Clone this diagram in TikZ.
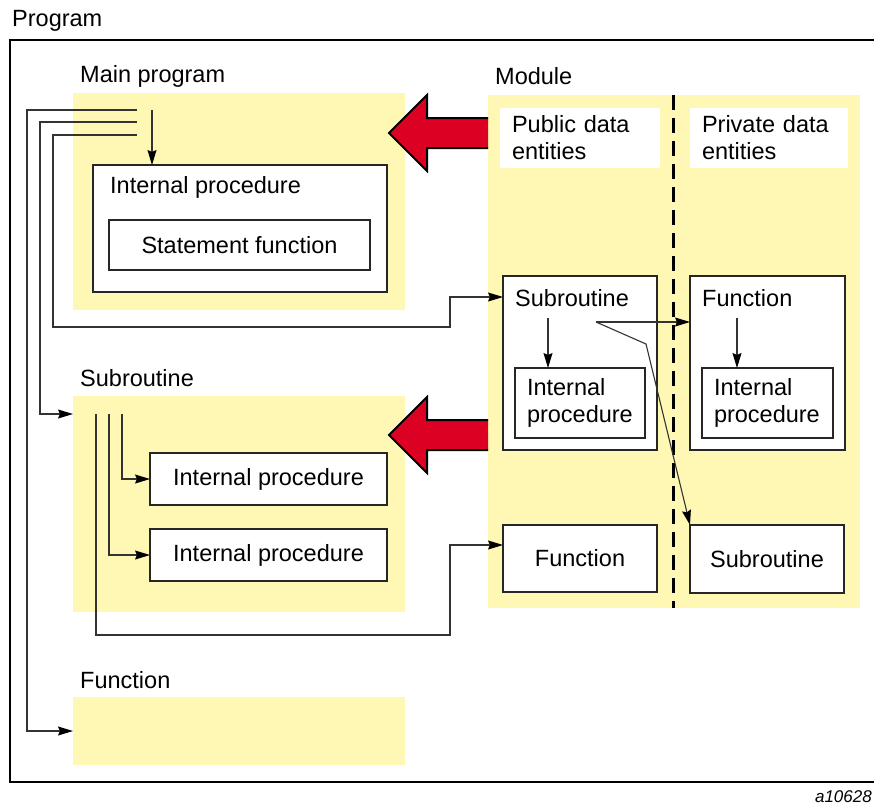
\documentclass[tikz,border=0pt]{standalone}
\usepackage{fontspec}
\setmainfont{Liberation Sans}
\usetikzlibrary{arrows.meta, positioning}
\definecolor{areayellow}{RGB}{255,247,180}
\definecolor{arrowred}{RGB}{220,0,34}

\begin{document}
\begin{tikzpicture}[
  x=1pt, y=-1pt,
  font=\fontsize{23.5}{27}\selectfont,
  area/.style={rectangle, fill=areayellow, inner sep=0pt, outer sep=0pt, anchor=north west},
  box/.style={rectangle, draw=black!85, line width=1.3pt, fill=white, inner sep=0pt, outer sep=0pt, anchor=north west},
  notebox/.style={box, draw=none, align=left, inner xsep=12pt},
  title/.style={anchor=west, inner sep=0pt},
  flow/.style={-{Stealth[length=15pt, width=9pt, inset=2pt, black]}, line width=1.1pt, draw=black!80},
  divider/.style={line width=3pt, dash pattern=on 15pt off 8pt},
  frame/.style={line width=1.5pt},
  bigarrow/.style={fill=arrowred, draw=black, line width=2pt, line join=miter}
]
\useasboundingbox (0,0) rectangle (874,806);

% program frame
\node[title] (program) at (12,21) {Program};
\draw[frame] (878,40) -- (10,40) -- (10,782) -- (878,782);
\node[title, anchor=east, font=\fontsize{17}{20}\selectfont\itshape] (figid) at (872,797) {a10628};

% yellow areas
\node[area, minimum width=332pt, minimum height=217pt] (mainarea) at (73,93) {};
\node[area, minimum width=332pt, minimum height=216pt] (subarea) at (73,396) {};
\node[area, minimum width=332pt, minimum height=68pt] (funcarea) at (73,697) {};
\node[area, minimum width=372pt, minimum height=513pt] (modarea) at (488,95) {};

\node[title] at (80,76) {Main program};
\node[title] at (80,378) {Subroutine};
\node[title] at (80,680) {Function};
\node[title] at (495,76) {Module};

% red arrows
\draw[bigarrow] (488,118) -- (427,118) -- (427,95) -- (389,133) -- (427,171) -- (427,148) -- (488,148);
\draw[bigarrow] (488,420) -- (427,420) -- (427,397) -- (389,435) -- (427,473) -- (427,450) -- (488,450);

% main program
\node[box, minimum width=294pt, minimum height=127pt] (mainint) at (93,165) {};
\node[title] at (110,187) {Internal procedure};
\node[box, minimum width=261pt, minimum height=50pt] (stmtfn) at (109,220) {Statement function};

% subroutine
\node[box, minimum width=237pt, minimum height=52pt] (subint1) at (150,453) {Internal procedure};
\node[box, minimum width=237pt, minimum height=52pt] (subint2) at (150,529) {Internal procedure};

% module
\draw[divider] (673,95) -- (673,608);
\node[notebox, text width=136pt, minimum height=60pt] (public) at (500,108) {Public data\\entities};
\node[notebox, text width=134pt, minimum height=60pt] (private) at (690,108) {Private data\\entities};

\node[box, minimum width=154pt, minimum height=174pt] (modsub) at (503,276) {};
\node[title] at (515,298) {Subroutine};
\node[box, align=left, inner xsep=12pt, text width=106pt, minimum height=70pt] (modsubint) at (515,368) {Internal\\procedure};

\node[box, minimum width=155pt, minimum height=174pt] (privfn) at (690,276) {};
\node[title] at (702,298) {Function};
\node[box, align=left, inner xsep=12pt, text width=107pt, minimum height=70pt] (privfnint) at (702,368) {Internal\\procedure};

\node[box, minimum width=154pt, minimum height=67pt] (modfn) at (503,525) {Function};
\node[box, minimum width=154pt, minimum height=68pt] (privsub) at (690,525) {Subroutine};

% call points
\coordinate (call1) at (137,110);
\coordinate (call2) at (137,122);
\coordinate (call3) at (137,135);
\coordinate (mainentry) at (152,110);
\coordinate (subentry) at (73,414);
\coordinate (modsubin) at (503,297);
\coordinate (modfnin) at (503,545);
\coordinate (modsubout) at (596,322);
\coordinate (bend) at (646,344);

% connectors
\draw[flow] (call1) -- (27,110) |- (funcarea.west);
\draw[flow] (call2) -- (40,122) |- (subentry);
\draw[flow] (call3) -- (53,135) -- (53,327) -- (450,327) |- (modsubin);
\draw[flow] (mainentry) -- (mainentry |- mainint.north);

\draw[flow] (122,414) |- (subint1.west);
\draw[flow] (109,414) |- (subint2.west);
\draw[flow] (96,414) -- (96,635) -- (450,635) |- (modfnin);

\draw[flow] (548,318) -- (548,368);
\draw[flow] (737,318) -- (737,368);
\draw[flow] (modsubout) -- (modsubout -| privfn.west);
\draw[flow] (modsubout) -- (bend) -- (privsub.north west);

\end{tikzpicture}
\end{document}
